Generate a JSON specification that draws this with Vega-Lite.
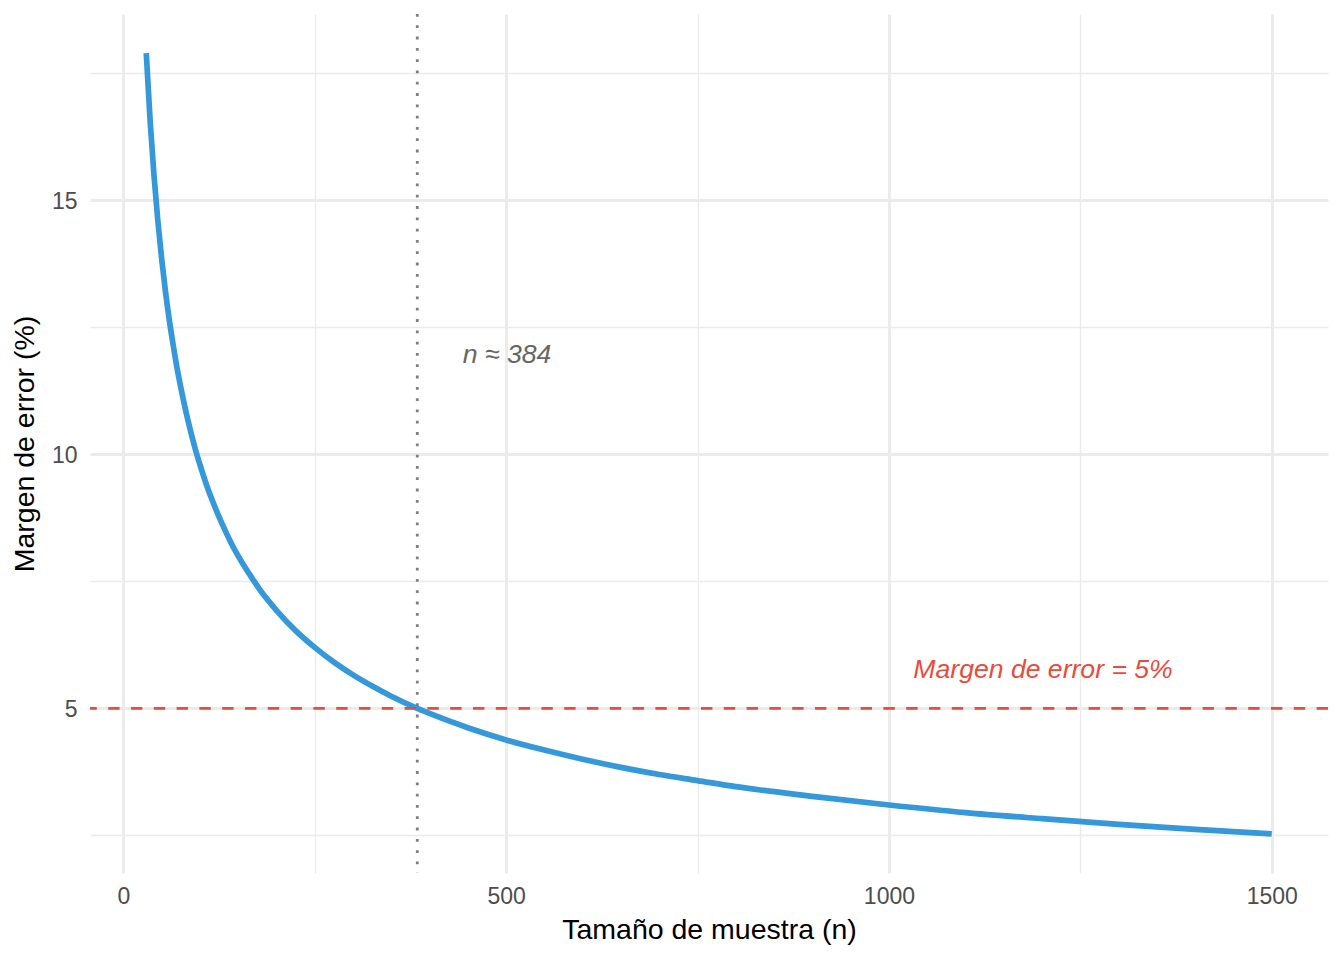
{
  "$schema": "https://vega.github.io/schema/vega-lite/v6.json",
  "width": 1238,
  "height": 859,
  "autosize": {"type": "none"},
  "padding": {"left": 90, "top": 14, "right": 16, "bottom": 87},
  "background": "white",
  "config": {"view": {"stroke": null}, "font": "Liberation Sans"},
  "layer": [
    {
      "data": {"values": [
        {"n": 30, "moe": 17.89}, {"n": 35, "moe": 16.57}, {"n": 40, "moe": 15.50}, {"n": 45, "moe": 14.61},
        {"n": 50, "moe": 13.86}, {"n": 55, "moe": 13.21}, {"n": 60, "moe": 12.65}, {"n": 65, "moe": 12.16},
        {"n": 70, "moe": 11.71}, {"n": 75, "moe": 11.32}, {"n": 80, "moe": 10.96}, {"n": 85, "moe": 10.63},
        {"n": 90, "moe": 10.33}, {"n": 95, "moe": 10.05}, {"n": 100, "moe": 9.80}, {"n": 110, "moe": 9.34},
        {"n": 120, "moe": 8.95}, {"n": 130, "moe": 8.60}, {"n": 140, "moe": 8.28}, {"n": 150, "moe": 8.00},
        {"n": 160, "moe": 7.75}, {"n": 170, "moe": 7.52}, {"n": 180, "moe": 7.30}, {"n": 190, "moe": 7.11},
        {"n": 200, "moe": 6.93}, {"n": 225, "moe": 6.53}, {"n": 250, "moe": 6.20}, {"n": 275, "moe": 5.91},
        {"n": 300, "moe": 5.66}, {"n": 325, "moe": 5.44}, {"n": 350, "moe": 5.24}, {"n": 384, "moe": 5.00},
        {"n": 400, "moe": 4.90}, {"n": 450, "moe": 4.62}, {"n": 500, "moe": 4.38}, {"n": 550, "moe": 4.18},
        {"n": 600, "moe": 4.00}, {"n": 650, "moe": 3.84}, {"n": 700, "moe": 3.70}, {"n": 750, "moe": 3.58},
        {"n": 800, "moe": 3.46}, {"n": 900, "moe": 3.27}, {"n": 1000, "moe": 3.10}, {"n": 1100, "moe": 2.95},
        {"n": 1200, "moe": 2.83}, {"n": 1300, "moe": 2.72}, {"n": 1400, "moe": 2.62}, {"n": 1500, "moe": 2.53}
      ]},
      "mark": {"type": "line", "color": "#3498DB", "strokeWidth": 5.7, "strokeCap": "butt", "strokeJoin": "round", "interpolate": "monotone"},
      "encoding": {
        "x": {
          "field": "n", "type": "quantitative",
          "scale": {"domain": [-43.5, 1573.5], "nice": false, "zero": false},
          "axis": {
            "title": "Tamaño de muestra (n)",
            "titleFontSize": 28.5, "titleColor": "#000000", "titleFontWeight": "normal", "titlePadding": 7,
            "labelFontSize": 23, "labelColor": "#4D4D4D", "labelPadding": 12,
            "labelFlush": false, "labelOverlap": false,
            "ticks": false, "tickSize": 0, "domain": false,
            "values": [0, 250, 500, 750, 1000, 1250, 1500],
            "labelExpr": "datum.value % 500 === 0 ? format(datum.value, 'd') : ''",
            "grid": true, "gridColor": "#EBEBEB",
            "gridWidth": {"condition": {"test": "datum.value % 500 === 0", "value": 2.85}, "value": 1.42}
          }
        },
        "y": {
          "field": "moe", "type": "quantitative",
          "scale": {"domain": [1.762, 18.66], "nice": false, "zero": false},
          "axis": {
            "title": "Margen de error (%)",
            "titleFontSize": 28.5, "titleColor": "#000000", "titleFontWeight": "normal", "titlePadding": 12,
            "labelFontSize": 23, "labelColor": "#4D4D4D", "labelPadding": 13, "labelOffset": 1,
            "labelFlush": false, "labelOverlap": false,
            "ticks": false, "tickSize": 0, "domain": false,
            "values": [2.5, 5, 7.5, 10, 12.5, 15, 17.5],
            "labelExpr": "datum.value % 5 === 0 ? format(datum.value, 'd') : ''",
            "grid": true, "gridColor": "#EBEBEB",
            "gridWidth": {"condition": {"test": "datum.value % 5 === 0", "value": 2.85}, "value": 1.42}
          }
        }
      }
    },
    {
      "data": {"values": [{"y": 5}]},
      "mark": {"type": "rule", "color": "#E74C3C", "strokeWidth": 2.8, "strokeDash": [11.4, 11.4]},
      "encoding": {"y": {"field": "y", "type": "quantitative"}}
    },
    {
      "data": {"values": [{"x": 384}]},
      "mark": {"type": "rule", "color": "#7F7F7F", "strokeWidth": 2.8, "strokeDash": [2.8, 8.5]},
      "encoding": {"x": {"field": "x", "type": "quantitative"}}
    },
    {
      "data": {"values": [{"x": 500, "y": 12, "label": "n ≈ 384"}]},
      "mark": {"type": "text", "color": "#666666", "fontSize": 26.6, "fontStyle": "italic", "align": "center", "baseline": "middle", "dy": 2, "dx": 1},
      "encoding": {
        "x": {"field": "x", "type": "quantitative"},
        "y": {"field": "y", "type": "quantitative"},
        "text": {"field": "label"}
      }
    },
    {
      "data": {"values": [{"x": 1200, "y": 5.8, "label": "Margen de error = 5%"}]},
      "mark": {"type": "text", "color": "#E74C3C", "fontSize": 26.6, "fontStyle": "italic", "align": "center", "baseline": "middle", "dy": 2, "dx": 1},
      "encoding": {
        "x": {"field": "x", "type": "quantitative"},
        "y": {"field": "y", "type": "quantitative"},
        "text": {"field": "label"}
      }
    }
  ]
}
